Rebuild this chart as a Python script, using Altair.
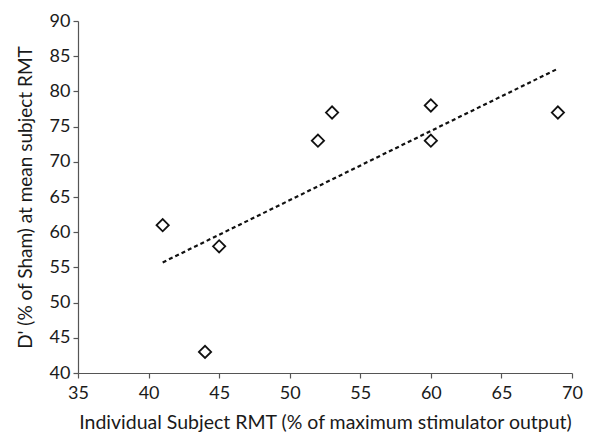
import altair as alt
import pandas as pd

rmt = [41, 44, 45, 52, 53, 60, 60, 69]
dprime = [61, 43, 58, 73, 77, 78, 73, 77]

df = pd.DataFrame({"rmt": rmt, "dprime": dprime})

xs = alt.Scale(domain=[35, 70], nice=False, zero=False)
ys = alt.Scale(domain=[40, 90], nice=False, zero=False)

xax = alt.Axis(values=list(range(35, 71, 5)), title="Individual Subject RMT (% of maximum stimulator output)",
               grid=False, tickSize=5, labelPadding=6, titlePadding=11, labelOverlap=False,
               labelFlush=False, titleFontSize=19.5)
yax = alt.Axis(values=list(range(40, 91, 5)), title="D' (% of Sham) at mean subject RMT",
               grid=False, tickSize=5, labelPadding=3, titlePadding=14, labelOverlap=False,
               labelFlush=False, titleFontSize=19)

pts = alt.Chart(df).mark_point(shape="diamond", size=150, filled=False, color="#111",
                               strokeWidth=1.8, opacity=1).encode(
    x=alt.X("rmt:Q", scale=xs, axis=xax),
    y=alt.Y("dprime:Q", scale=ys, axis=yax),
)

trend = alt.Chart(df).transform_regression("rmt", "dprime").mark_line(
    color="#111", strokeDash=[4, 3], strokeWidth=2.2).encode(
    x=alt.X("rmt:Q", scale=xs, axis=xax),
    y=alt.Y("dprime:Q", scale=ys, axis=yax),
)

chart = (trend + pts).properties(
    width=494, height=352,
    autosize=alt.AutoSizeParams(type="none"),
    padding={"left": 70, "top": 13, "right": 11, "bottom": 64},
).configure_view(stroke=None).configure_axis(
    domainColor="#555", tickColor="#555", labelColor="#1a1a1a", titleColor="#1a1a1a",
    labelFont="Lato", titleFont="Lato", labelFontSize=18,
    titleFontWeight="normal", domainWidth=1.2, tickWidth=1.2,
)

chart.save("out.html", embed_options={"renderer": "svg", "actions": False})
